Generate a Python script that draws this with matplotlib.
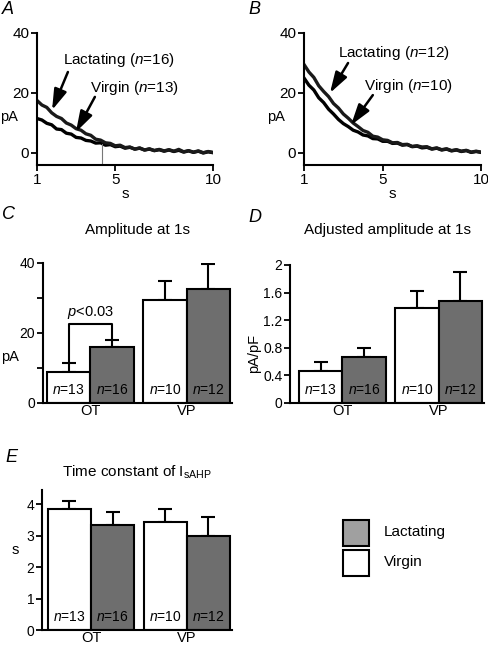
import numpy as np
import matplotlib
matplotlib.use("Agg")
import matplotlib.pyplot as plt
from matplotlib.patches import Rectangle

plt.rcParams['font.family'] = ['Liberation Sans', 'DejaVu Sans']
plt.rcParams['mathtext.fontset'] = 'custom'
plt.rcParams['mathtext.rm'] = 'Liberation Sans'
plt.rcParams['mathtext.it'] = 'Liberation Sans:italic'

# ---- data ----
# averaged sAHP current traces, sampled every 0.25 s from 1 to 10 s
t = np.arange(1.0, 10.01, 0.25)
ot_lact = [17.5, 16.0, 15.2, 13.4, 12.2, 11.5, 10.0, 9.3, 8.1, 7.6, 6.4, 5.9, 4.6,
           4.3, 3.4, 3.2, 2.4, 2.6, 1.8, 2.0, 1.3, 1.7, 1.0, 1.4, 0.8, 1.2, 0.7,
           1.1, 0.6, 1.2, 0.4, 0.8, 0.3, 0.7, 0.1, 0.5, 0.2]
ot_virg = [11.5, 11.0, 9.9, 9.4, 8.0, 7.8, 6.6, 6.3, 5.2, 5.0, 4.2, 4.0, 3.3,
           3.4, 2.6, 2.8, 2.1, 2.3, 1.6, 1.9, 1.3, 1.6, 1.0, 1.3, 0.8, 1.1, 0.6,
           1.0, 0.5, 0.9, 0.3, 0.7, 0.2, 0.6, 0.0, 0.4, 0.1]
vp_lact = [29.5, 27.0, 25.2, 22.4, 20.5, 18.8, 16.5, 15.0, 13.0, 11.6, 10.0, 8.8, 7.5,
           6.9, 5.6, 5.3, 4.4, 4.2, 3.4, 3.5, 2.8, 2.9, 2.2, 2.4, 2.0, 2.1, 1.4,
           1.7, 1.1, 1.4, 0.8, 1.1, 0.6, 0.9, 0.3, 0.6, 0.3]
vp_virg = [25.0, 22.6, 21.0, 18.4, 16.8, 14.6, 13.0, 11.2, 9.8, 8.8, 7.6, 7.0, 6.0,
           5.7, 4.8, 4.7, 3.9, 3.9, 3.2, 3.3, 2.6, 2.8, 2.1, 2.3, 1.7, 1.9, 1.3,
           1.6, 1.0, 1.3, 0.7, 1.0, 0.5, 0.8, 0.2, 0.5, 0.2]
artifact_x = [4.3, 4.3]
artifact_y = [-3.3, 3.0]

groups = ['OT', 'VP']
n_virg = [13, 10]
n_lact = [16, 12]
amp_virg, amp_virg_err = [9.0, 29.3], [2.5, 5.7]
amp_lact, amp_lact_err = [16.0, 32.5], [2.0, 7.2]
adj_virg, adj_virg_err = [0.47, 1.37], [0.13, 0.25]
adj_lact, adj_lact_err = [0.66, 1.48], [0.13, 0.42]
tau_virg, tau_virg_err = [3.85, 3.42], [0.25, 0.43]
tau_lact, tau_lact_err = [3.35, 2.98], [0.40, 0.60]

W, H = 489, 647
fig = plt.figure(figsize=(W / 100, H / 100), dpi=100)


def ax_px(left, top, right, bottom):
    return fig.add_axes([left / W, 1 - bottom / H, (right - left) / W, (bottom - top) / H])


def style(ax, tsize=10):
    for s in ['top', 'right']:
        ax.spines[s].set_visible(False)
    for s in ['left', 'bottom']:
        ax.spines[s].set_linewidth(1.5)
    ax.tick_params(direction='out', length=4, width=1.3, labelsize=tsize, pad=1.5)


def trace_panel(ax, lact, virg, ann):
    style(ax, 11)
    ax.plot(t, virg, color='black', lw=2.4)
    ax.plot(t, lact, color='#1a1a1a', lw=2.4)
    ax.set_xlim(1, 10)
    ax.set_ylim(-4, 40)
    ax.set_xticks([1, 5, 10])
    ax.set_yticks([0, 20, 40])
    ax.set_xlabel('s', fontsize=11, labelpad=0)
    ax.set_ylabel('pA', fontsize=10.5, rotation=0, va='center')
    ax.yaxis.set_label_coords(-0.16, 0.365)
    for label, tx, ty, xy, xytext in ann:
        ax.text(tx, ty, label, fontsize=11, va='center', ha='left')
        ax.annotate('', xy=xy, xytext=xytext,
                    arrowprops=dict(arrowstyle='-|>,head_length=0.9,head_width=0.28',
                                    lw=1.8, color='black', mutation_scale=14,
                                    shrinkA=0, shrinkB=0))


def bar_panel(ax, virg, verr, lact, lerr, ylim, yticks, ylabels, xleft):
    style(ax, 10)
    x = np.arange(len(groups))
    w = 0.45
    ax.bar(x - w / 2, virg, w, color='white', edgecolor='black', lw=1.5, zorder=2)
    ax.bar(x + w / 2, lact, w, color='#6e6e6e', edgecolor='black', lw=1.5, zorder=2)
    ax.errorbar(x - w / 2, virg, yerr=[[0] * len(virg), verr], fmt='none',
                ecolor='black', elinewidth=1.5, capsize=5, capthick=1.5, zorder=1)
    ax.errorbar(x + w / 2, lact, yerr=[[0] * len(lact), lerr], fmt='none',
                ecolor='black', elinewidth=1.5, capsize=5, capthick=1.5, zorder=1)
    trans = ax.get_xaxis_transform()
    for i in range(len(groups)):
        ax.text(x[i] - w / 2, 0.095, '$\\it{n}$=%d' % n_virg[i], transform=trans,
                ha='center', va='center', fontsize=10)
        ax.text(x[i] + w / 2, 0.095, '$\\it{n}$=%d' % n_lact[i], transform=trans,
                ha='center', va='center', fontsize=10)
    ax.set_xlim(xleft, 1.47)
    ax.set_ylim(*ylim)
    ax.set_yticks(yticks)
    ax.set_yticklabels(ylabels)
    ax.set_xticks(x)
    ax.set_xticklabels(groups, fontsize=10.5)
    ax.tick_params(axis='x', length=0, pad=1)


# ---- A ----
axA = ax_px(37, 33, 213, 165)
trace_panel(axA, ot_lact, ot_virg, [
    ('Lactating ($\\it{n}$=16)', 2.33, 31, (1.77, 14.3), (2.58, 27)),
    ('Virgin ($\\it{n}$=13)', 3.7, 21.6, (2.99, 7.0), (3.96, 18.7)),
])
axA.plot(artifact_x, artifact_y, color='#777777', lw=0.8)

# ---- B ----
axB = ax_px(304, 33, 481, 165)
trace_panel(axB, vp_lact, vp_virg, [
    ('Lactating ($\\it{n}$=12)', 2.73, 33.3, (2.32, 20.0), (3.24, 30.0)),
    ('Virgin ($\\it{n}$=10)', 4.05, 22.3, (3.39, 9.3), (4.5, 19.3)),
])

# ---- C ----
axC = ax_px(43, 263, 232, 403)
bar_panel(axC, amp_virg, amp_virg_err, amp_lact, amp_lact_err,
          (0, 40), [0, 10, 20, 30, 40], ['0', '', '20', '', '40'], -0.49)
axC.set_ylabel('pA', fontsize=10.5, rotation=0, va='center')
axC.yaxis.set_label_coords(-0.175, 0.33)
axC.set_title('Amplitude at 1s', fontsize=11, pad=21)
bx = [-0.225, -0.225, 0.225, 0.225]
by = [amp_virg[0] + amp_virg_err[0], 22.5, 22.5, amp_lact[0] + amp_lact_err[0]]
axC.plot(bx, by, color='black', lw=1.5, zorder=3)
axC.text(0, 23.5, '$\\it{p}$<0.03', ha='center', va='bottom', fontsize=10.5)

# ---- D ----
axD = ax_px(290, 265, 484, 403)
bar_panel(axD, adj_virg, adj_virg_err, adj_lact, adj_lact_err,
          (0, 2), [0, 0.4, 0.8, 1.2, 1.6, 2.0], ['0', '0.4', '0.8', '1.2', '1.6', '2'], -0.544)
axD.set_ylabel('pA/pF', fontsize=10.5)
axD.yaxis.set_label_coords(-0.15, 0.36)
axD.set_title('Adjusted amplitude at 1s', fontsize=11, pad=22)

# ---- E ----
axE = ax_px(42, 490, 232, 630)
bar_panel(axE, tau_virg, tau_virg_err, tau_lact, tau_lact_err,
          (0, 4.45), [0, 1, 2, 3, 4], ['0', '1', '2', '3', '4'], -0.51)
axE.set_ylabel('s', fontsize=10.5, rotation=0, va='center')
axE.yaxis.set_label_coords(-0.14, 0.57)
axE.set_title('Time constant of I$_{\\rm sAHP}$', fontsize=11, pad=10)

# ---- legend ----
for (y0, fc, lab) in [(520, '#a0a0a0', 'Lactating'), (550, 'white', 'Virgin')]:
    fig.add_artist(Rectangle((343 / W, 1 - (y0 + 26) / H), 26 / W, 26 / H,
                             transform=fig.transFigure, facecolor=fc,
                             edgecolor='black', lw=1.5))
    fig.text(384 / W, 1 - (y0 + 12) / H, lab, fontsize=11, va='center', ha='left')

# ---- panel letters ----
for lab, px, py in [('A', 2, 10), ('B', 248, 10), ('C', 2, 215), ('D', 248, 217), ('E', 5, 458)]:
    fig.text(px / W, 1 - py / H, lab, fontsize=13, style='italic', va='center', ha='left')

fig.savefig('out.png', dpi=100)
